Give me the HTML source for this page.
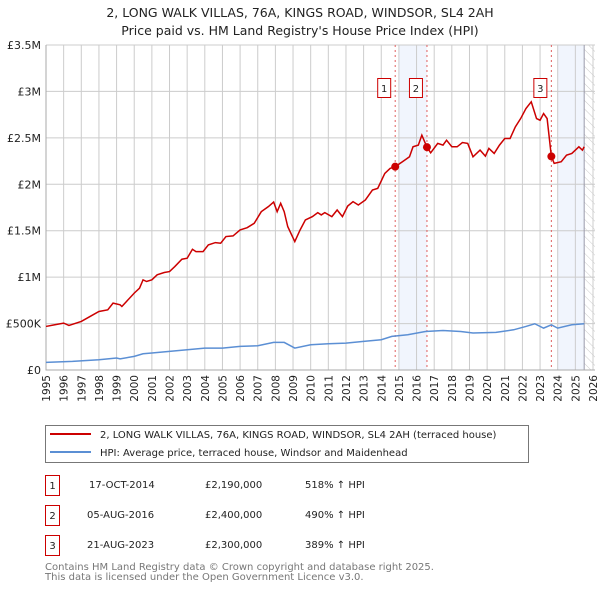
<!DOCTYPE html>
<html><head><meta charset="utf-8">
<style>
body{margin:0;background:#fff;font-family:"DejaVu Sans","Liberation Sans",sans-serif;}
svg text{font-family:"DejaVu Sans","Liberation Sans",sans-serif;}
</style></head>
<body>
<svg id="chart" width="600" height="590" viewBox="0 0 600 590" xmlns="http://www.w3.org/2000/svg">
<defs>
<pattern id="hatch" width="6" height="6" patternUnits="userSpaceOnUse" patternTransform="rotate(-45)">
<line x1="0" y1="0" x2="0" y2="6" stroke="#ccc" stroke-width="1"/>
</pattern>
</defs>
<text x="300" y="17" text-anchor="middle" font-size="12.5" fill="#222">2, LONG WALK VILLAS, 76A, KINGS ROAD, WINDSOR, SL4 2AH</text>
<text x="300" y="35" text-anchor="middle" font-size="12.5" fill="#222">Price paid vs. HM Land Registry's House Price Index (HPI)</text>
<g id="plot"></g>
<g>
<rect x="45.5" y="425.5" width="483" height="37" fill="#fff" stroke="#777"/>
<line x1="50" y1="434" x2="91" y2="434" stroke="#cc0000" stroke-width="2"/>
<text x="100" y="438" font-size="10" fill="#222">2, LONG WALK VILLAS, 76A, KINGS ROAD, WINDSOR, SL4 2AH (terraced house)</text>
<line x1="50" y1="452" x2="91" y2="452" stroke="#5b8fd4" stroke-width="2"/>
<text x="100" y="456" font-size="10" fill="#222">HPI: Average price, terraced house, Windsor and Maidenhead</text>
</g>
<g>
<rect x="45.5" y="475.5" width="14" height="20" fill="#fff" stroke="#cc0000"/>
<text x="52.5" y="489" text-anchor="middle" font-size="10" fill="#222">1</text>
<text x="89" y="488" font-size="10" fill="#222">17-OCT-2014</text>
<text x="205" y="488" font-size="10" fill="#222">£2,190,000</text>
<text x="305" y="488" font-size="10" fill="#222">518% ↑ HPI</text>
<rect x="45.5" y="505.5" width="14" height="20" fill="#fff" stroke="#cc0000"/>
<text x="52.5" y="519" text-anchor="middle" font-size="10" fill="#222">2</text>
<text x="87" y="518" font-size="10" fill="#222">05-AUG-2016</text>
<text x="205" y="518" font-size="10" fill="#222">£2,400,000</text>
<text x="305" y="518" font-size="10" fill="#222">490% ↑ HPI</text>
<rect x="45.5" y="535.5" width="14" height="20" fill="#fff" stroke="#cc0000"/>
<text x="52.5" y="549" text-anchor="middle" font-size="10" fill="#222">3</text>
<text x="87" y="548" font-size="10" fill="#222">21-AUG-2023</text>
<text x="205" y="548" font-size="10" fill="#222">£2,300,000</text>
<text x="305" y="548" font-size="10" fill="#222">389% ↑ HPI</text>
</g>
<text x="45" y="570" font-size="10" fill="#777">Contains HM Land Registry data © Crown copyright and database right 2025.</text>
<text x="45" y="580" font-size="10" fill="#777">This data is licensed under the Open Government Licence v3.0.</text>
</svg>
<script>
const yearTicks=[1995,1996,1997,1998,1999,2000,2001,2002,2003,2004,2005,2006,2007,2008,2009,2010,2011,2012,2013,2014,2015,2016,2017,2018,2019,2020,2021,2022,2023,2024,2025,2026];
const valueTicks=[0,500000,1000000,1500000,2000000,2500000,3000000,3500000];
const valueLabels=["£0","£500K","£1M","£1.5M","£2M","£2.5M","£3M","£3.5M"];
const propYears=[1995.0,1995.5,1996.0,1996.3,1997.0,1997.5,1998.0,1998.5,1998.8,1999.2,1999.3,2000.0,2000.3,2000.5,2000.7,2001.0,2001.3,2001.7,2002.0,2002.3,2002.7,2003.0,2003.3,2003.5,2003.9,2004.2,2004.6,2004.9,2005.2,2005.6,2006.0,2006.4,2006.8,2007.2,2007.6,2007.9,2008.1,2008.3,2008.5,2008.7,2009.1,2009.4,2009.7,2010.1,2010.4,2010.6,2010.8,2011.2,2011.5,2011.8,2012.1,2012.4,2012.7,2013.1,2013.5,2013.8,2014.2,2014.5,2014.79,2015.2,2015.6,2015.8,2016.1,2016.3,2016.59,2016.8,2017.2,2017.5,2017.7,2018.0,2018.3,2018.6,2018.9,2019.2,2019.6,2019.9,2020.1,2020.4,2020.7,2021.0,2021.3,2021.6,2021.9,2022.2,2022.5,2022.8,2023.0,2023.2,2023.4,2023.64,2023.8,2024.2,2024.5,2024.8,2025.2,2025.4,2025.5];
const propValues=[469000,487000,505000,480000,523000,577000,630000,648000,720000,702000,684000,828000,881000,971000,953000,971000,1025000,1050000,1060000,1114000,1193000,1204000,1300000,1275000,1275000,1347000,1372000,1365000,1437000,1444000,1508000,1533000,1580000,1705000,1759000,1809000,1705000,1795000,1705000,1544000,1383000,1508000,1616000,1652000,1695000,1670000,1695000,1652000,1723000,1652000,1766000,1813000,1777000,1831000,1938000,1956000,2117000,2171000,2190000,2243000,2296000,2404000,2422000,2529000,2400000,2339000,2440000,2422000,2475000,2404000,2404000,2450000,2440000,2296000,2368000,2303000,2386000,2332000,2422000,2493000,2493000,2619000,2708000,2816000,2888000,2708000,2690000,2762000,2708000,2300000,2225000,2243000,2314000,2332000,2404000,2368000,2404000];
const hpiYears=[1995,1996.5,1998,1999,1999.2,2000,2000.5,2001,2002,2003,2004,2005,2006,2007,2007.9,2008.5,2009.1,2010,2011,2012,2013,2014,2014.6,2015.5,2016.5,2017.5,2018.5,2019.2,2020.5,2021.5,2022.2,2022.7,2023.2,2023.64,2024,2024.8,2025.5];
const hpiValues=[82000,93000,111000,129000,120000,147000,175000,183000,200000,218000,236000,236000,254000,261000,297000,297000,236000,272000,283000,290000,308000,326000,362000,380000,415000,426000,415000,398000,405000,433000,469000,498000,451000,487000,451000,487000,498000];
const saleYears=[2014.79,2016.59,2023.64];
const saleValues=[2190000,2400000,2300000];
const saleLabels=["1","2","3"];

const X0=46,X1=593,Y0=370,Y1=45,YMIN=1995,YMAX=2026,VMAX=3500000;
const x=v=>X0+(v-YMIN)/(YMAX-YMIN)*(X1-X0);
const y=v=>Y0-v/VMAX*(Y0-Y1);
const NS="http://www.w3.org/2000/svg";
const plot=document.getElementById('plot');
function mk(tag,attrs,parent){const e=document.createElementNS(NS,tag);for(const k in attrs)e.setAttribute(k,attrs[k]);(parent||plot).appendChild(e);return e;}

// shaded regions
let s1=mk('rect',{x:x(2015),y:Y1,width:x(saleYears[1])-x(2015),height:Y0-Y1,fill:'#eef3fc',opacity:0.8});


let s2=mk('rect',{x:x(2024),y:Y1,width:x(2025.5)-x(2024),height:Y0-Y1,fill:'#eef3fc',opacity:0.8});


let h=mk('rect',{x:x(2025.5),y:Y1,width:X1-x(2025.5)+2,height:Y0-Y1,fill:'url(#hatch)'});



// grid
yearTicks.forEach(t=>{
  let l=mk('line',{x1:x(t),x2:x(t),y1:Y1,y2:Y0,stroke:'#ccc','stroke-width':1});
  
  
  let tx=mk('text',{x:0,y:0,'font-size':10.5,fill:'#222','text-anchor':'end',transform:`translate(${x(t)+4},${Y0+5}) rotate(-90)`});
  tx.textContent=t;
  
  
});
valueTicks.forEach((v,i)=>{
  let l=mk('line',{x1:X0,x2:X1+2,y1:y(v),y2:y(v),stroke:'#ccc','stroke-width':1});
  
  
  let tx=mk('text',{x:X0-5,y:y(v)+4,'font-size':11,fill:'#222','text-anchor':'end'});
  tx.textContent=valueLabels[i];
  
  
});
let ed=mk('line',{x1:x(2025.5),x2:x(2025.5),y1:Y1,y2:Y0,stroke:'#99a',"stroke-width":1});


let ax=mk('polyline',{points:`${X0},${Y1} ${X0},${Y0} ${X1+2},${Y0}`,fill:'none',stroke:'#aaa'});



// sale vlines and labels
saleYears.forEach((s,i)=>{
  let l=mk('line',{x1:x(s),x2:x(s),y1:Y1,y2:Y0,stroke:'#e06060','stroke-dasharray':'2,3','stroke-width':1});
  
  
  let b=mk('rect',{x:x(s)-17.5,y:78.5,width:13,height:19,fill:'#fff',stroke:'#cc0000'});
  
  
  let t=mk('text',{x:x(s)-11,y:92,'font-size':10,fill:'#222','text-anchor':'middle'});
  t.textContent=saleLabels[i];
  
  
});

// series
let hp=mk('polyline',{points:hpiYears.map((t,i)=>x(t)+','+y(hpiValues[i])).join(' '),fill:'none',stroke:'#5b8fd4','stroke-width':1.5});


let pp=mk('polyline',{points:propYears.map((t,i)=>x(t)+','+y(propValues[i])).join(' '),fill:'none',stroke:'#cc0000','stroke-width':1.5});


saleYears.forEach((s,i)=>{
  let c=mk('circle',{cx:x(s),cy:y(saleValues[i]),r:4,fill:'#cc0000'});
  
  
});
</script>
</body></html>
